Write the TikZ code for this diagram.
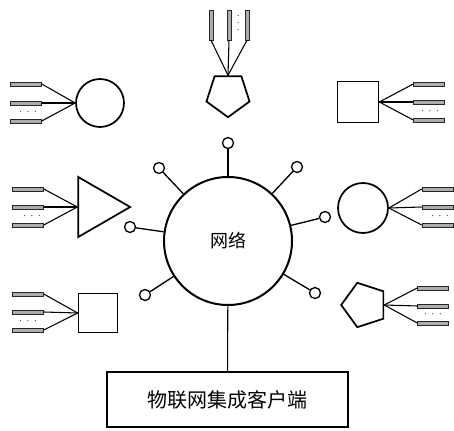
\documentclass[tikz,border=0pt]{standalone}
\usepackage{fontspec}
\newfontfamily\cjk{Noto Sans CJK SC}
\usetikzlibrary{shapes.geometric}
\tikzset{
  shp/.style={draw,line width=1.3pt,inner sep=0pt},
  hbar/.style={draw=black!85,fill=gray!65,line width=0.4pt,minimum width=23.25pt,minimum height=3pt,inner sep=0pt},
  vbar/.style={hbar,minimum width=3pt,minimum height=22.5pt},
  port/.style={draw,circle,line width=1pt,minimum size=8.25pt,inner sep=0pt},
  wire/.style={line width=0.8pt},
  spoke/.style={line width=1pt},
  dotsnode/.style={inner sep=0pt,font=\scriptsize}
}

\begin{document}
\begin{tikzpicture}[x=0.75pt,y=-0.75pt]
    \useasboundingbox (0,0) rectangle (454,431);
    % network in the middle
    \node[shp,circle,line width=1.5pt,minimum size=96pt,font=\cjk\fontsize{13.5}{14}\selectfont] (net) at (228,241) {网络};
    \node[shp,rectangle,minimum width=180.75pt,minimum height=41.25pt,font=\cjk\fontsize{15}{16}\selectfont] (client) at (227.5,399.5) {物联网集成客户端};
    \draw[wire] (net) -- (client);
    % ports on the network
    \node[port] (p1) at (228,143) {};
    \node[port] (p2) at (159,168) {};
    \node[port] (p3) at (297,167) {};
    \node[port] (p4) at (130,227) {};
    \node[port] (p5) at (325,217) {};
    \node[port] (p6) at (145,295) {};
    \node[port] (p7) at (315,293) {};
    \draw[spoke] (net) -- (p1);
    \draw[spoke] (net) -- (p2);
    \draw[spoke] (net) -- (p3);
    \draw[spoke] (net) -- (p4);
    \draw[spoke] (net) -- (p5);
    \draw[spoke] (net) -- (p6);
    \draw[spoke] (net) -- (p7);
    % devices
    \node[shp,circle,minimum size=36pt] (circA) at (100,103) {};
    \node[shp,regular polygon,regular polygon sides=5,shape border rotate=180,minimum size=34pt] (pentA) at (228,94.5) {};
    \node[shp,rectangle,minimum size=30.75pt] (sqA) at (358,102) {};
    \node[shp,regular polygon,regular polygon sides=3,shape border rotate=-90,minimum size=52pt] (tri) at (95.5,207) {};
    \node[shp,circle,minimum size=37.5pt] (circB) at (363,208) {};
    \node[shp,rectangle,minimum size=29.25pt] (sqB) at (98,313) {};
    \node[shp,regular polygon,regular polygon sides=5,shape border rotate=90,minimum size=35pt] (pentB) at (364.5,305) {};
    % sensors of circA
    \node[hbar] (a1) at (26,84) {};
    \node[hbar] (a2) at (26,103) {};
    \node[hbar] (a3) at (26,121) {};
    \node[dotsnode] (ad) at (28,112) {$\cdot\,\cdot\,\cdot$};
    \draw[wire] (a1.east) -- (circA.west);
    \draw[wire] (a2.east) -- (circA.west);
    \draw[wire] (a3.east) -- (circA.west);
    % sensors of pentA
    \node[vbar] (b1) at (211,25) {};
    \node[vbar] (b2) at (229,25) {};
    \node[vbar] (b3) at (247,25) {};
    \node[dotsnode,rotate=90] (bd) at (238.5,23) {$\cdot\,\cdot\,\cdot$};
    \draw[wire] (b1.south) -- (pentA.north);
    \draw[wire] (b2.south) -- (pentA.north);
    \draw[wire] (b3.south) -- (pentA.north);
    % sensors of sqA
    \node[hbar] (c1) at (429,84) {};
    \node[hbar] (c2) at (429,102) {};
    \node[hbar] (c3) at (429,120) {};
    \node[dotsnode] (cd) at (430,111) {$\cdot\,\cdot\,\cdot$};
    \draw[wire] (sqA.east) -- (c1.west);
    \draw[wire] (sqA.east) -- (c2.west);
    \draw[wire] (sqA.east) -- (c3.west);
    % sensors of tri
    \node[hbar] (d1) at (28,189) {};
    \node[hbar] (d2) at (28,207) {};
    \node[hbar] (d3) at (28,225) {};
    \node[dotsnode] (dd) at (32,216) {$\cdot\,\cdot\,\cdot$};
    \draw[wire] (d1.east) -- (tri.west);
    \draw[wire] (d2.east) -- (tri.west);
    \draw[wire] (d3.east) -- (tri.west);
    % sensors of circB
    \node[hbar] (e1) at (437.5,189) {};
    \node[hbar] (e2) at (437.5,207) {};
    \node[hbar] (e3) at (437.5,225) {};
    \node[dotsnode] (ed) at (440,216) {$\cdot\,\cdot\,\cdot$};
    \draw[wire] (circB.east) -- (e1.west);
    \draw[wire] (circB.east) -- (e2.west);
    \draw[wire] (circB.east) -- (e3.west);
    % sensors of sqB
    \node[hbar] (f1) at (28,294) {};
    \node[hbar] (f2) at (28,312) {};
    \node[hbar] (f3) at (28,330) {};
    \node[dotsnode] (fd) at (28,321) {$\cdot\,\cdot\,\cdot$};
    \draw[wire] (f1.east) -- (sqB.west);
    \draw[wire] (f2.east) -- (sqB.west);
    \draw[wire] (f3.east) -- (sqB.west);
    % sensors of pentB
    \node[hbar] (g1) at (433,288) {};
    \node[hbar] (g2) at (433,306) {};
    \node[hbar] (g3) at (433,323) {};
    \node[dotsnode] (gd) at (433,314) {$\cdot\,\cdot\,\cdot$};
    \draw[wire] (pentB.east) -- (g1.west);
    \draw[wire] (pentB.east) -- (g2.west);
    \draw[wire] (pentB.east) -- (g3.west);
\end{tikzpicture}
\end{document}
